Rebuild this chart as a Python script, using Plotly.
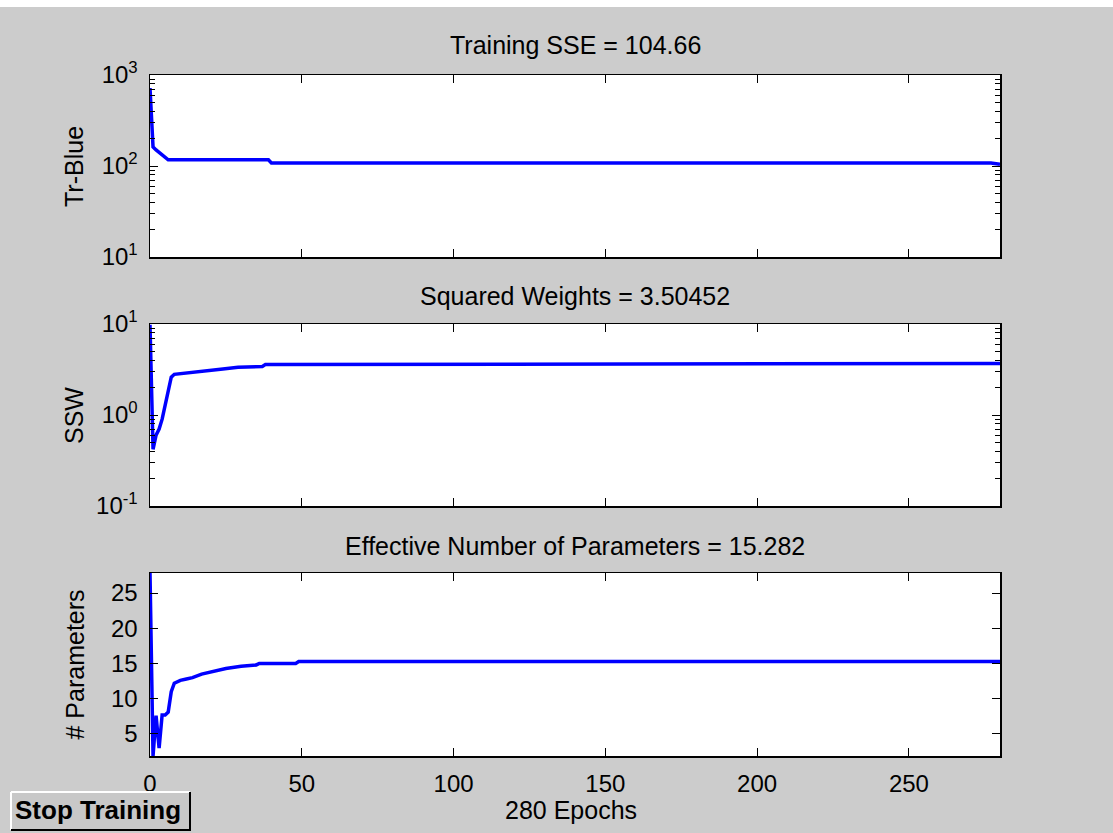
import plotly.graph_objects as go

# ---------------- data ----------------
sse_epochs = [0, 1, 2, 3, 4, 5, 6, 39, 40, 277, 280]
sse_values = [720, 162, 150, 140, 132, 124, 117, 117, 108, 108, 104.66]

ssw_epochs = [0, 1, 2, 3, 4, 5, 6, 7, 8, 15, 19, 24, 29, 37, 38, 91, 92, 280]
ssw_values = [9.8, 0.42, 0.6, 0.7, 0.9, 1.25, 1.9, 2.6, 2.8, 2.94, 3.07, 3.2, 3.34, 3.42, 3.58, 3.6, 3.68, 3.68]

par_epochs = [0, 1, 2, 3, 4, 5, 6, 7, 8, 10, 12, 14, 17, 20, 25, 30, 35, 36, 48, 49, 280]
par_values = [27.85, 1.87, 7.6, 3.0, 7.7, 7.7, 8.1, 11.0, 12.2, 12.6, 12.8, 13.0, 13.5, 13.8, 14.3, 14.6, 14.8, 15.0, 15.0, 15.28, 15.282]

panel_titles = ["Training SSE = 104.66", "Squared Weights = 3.50452",
                "Effective Number of Parameters = 15.282"]
y_titles = ["Tr-Blue", "SSW", "# Parameters"]
x_title = "280 Epochs"
x_ticks = [0, 50, 100, 150, 200, 250]
sse_ticks = [10, 100, 1000]
sse_ticktext = ["10<sup>1</sup>", "10<sup>2</sup>", "10<sup>3</sup>"]
ssw_ticks = [0.1, 1, 10]
ssw_ticktext = ["10<sup>-1</sup>", "10<sup>0</sup>", "10<sup>1</sup>"]
par_ticks = [5, 10, 15, 20, 25]
button_text = "Stop Training"

# ---------------- layout helpers ----------------
W, H = 1113, 833
BG = "#cccccc"
FONT = "Liberation Sans, Arial, sans-serif"


def px_x(p):
    return p / W


def px_y(p):
    return 1 - p / H


x_dom = [px_x(150), px_x(1000)]
panels_px = [(75, 257), (324, 506), (573, 756)]
y_doms = [[px_y(b), px_y(t)] for t, b in panels_px]

fig = go.Figure()
line = dict(color="#0000ff", width=3.5)
fig.add_trace(go.Scatter(x=sse_epochs, y=sse_values, mode="lines", line=line, xaxis="x", yaxis="y", showlegend=False))
fig.add_trace(go.Scatter(x=ssw_epochs, y=ssw_values, mode="lines", line=line, xaxis="x2", yaxis="y2", showlegend=False))
fig.add_trace(go.Scatter(x=par_epochs, y=par_values, mode="lines", line=line, xaxis="x3", yaxis="y3", showlegend=False))

tickfont = dict(family=FONT, size=24, color="black")
common_x = dict(range=[0, 280], tickvals=x_ticks, ticks="inside", ticklen=8, tickwidth=1,
                tickcolor="black", showline=True, linecolor="black", linewidth=1.5,
                mirror="ticks", showgrid=False, zeroline=False, domain=x_dom,
                tickfont=tickfont, fixedrange=True, automargin=False)
common_y = dict(ticks="inside", ticklen=8, tickwidth=1, tickcolor="black", showline=True,
                linecolor="black", linewidth=1.5, mirror="ticks", showgrid=False,
                zeroline=False, tickfont=tickfont, ticklabelstandoff=6, fixedrange=True,
                automargin=False)
minor = dict(ticks="inside", ticklen=5, tickwidth=1, tickcolor="black", dtick="D1", showgrid=False)

fig.update_layout(
    width=W, height=H,
    margin=dict(l=0, r=0, t=0, b=0, pad=0),
    paper_bgcolor=BG, plot_bgcolor="white",
    hovermode=False,
    xaxis=dict(common_x, anchor="y", showticklabels=False),
    xaxis2=dict(common_x, anchor="y2", showticklabels=False),
    xaxis3=dict(common_x, anchor="y3", showticklabels=True, ticklabelstandoff=6),
    yaxis=dict(common_y, type="log", range=[1, 3], tickvals=sse_ticks, ticktext=sse_ticktext,
               minor=minor, domain=y_doms[0], anchor="x"),
    yaxis2=dict(common_y, type="log", range=[-1, 1], tickvals=ssw_ticks, ticktext=ssw_ticktext,
                minor=minor, domain=y_doms[1], anchor="x2"),
    yaxis3=dict(common_y, range=[1.87, 27.85], tickvals=par_ticks, domain=y_doms[2], anchor="x3"),
)

annots = []
title_font = dict(family=FONT, size=25, color="black")
title_y_px = [45, 296, 546]
for t, ty in zip(panel_titles, title_y_px):
    annots.append(dict(text=t, x=px_x(575), y=px_y(ty), xref="paper", yref="paper",
                       xanchor="center", yanchor="middle", showarrow=False, font=title_font))
for t, (top, bot) in zip(y_titles, panels_px):
    annots.append(dict(text=t, x=px_x(74), y=px_y((top + bot) / 2), xref="paper", yref="paper",
                       xanchor="center", yanchor="middle", textangle=-90, showarrow=False,
                       font=title_font))
annots.append(dict(text=x_title, x=px_x(571), y=px_y(810), xref="paper", yref="paper",
                   xanchor="center", yanchor="middle", showarrow=False, font=title_font))
annots.append(dict(text="<b>" + button_text + "</b>", x=px_x(98), y=px_y(810), xref="paper",
                   yref="paper", xanchor="center", yanchor="middle", showarrow=False,
                   font=dict(family=FONT, size=26, color="black")))

shapes = [
    # white strip at the very top
    dict(type="rect", xref="paper", yref="paper", x0=0, x1=1, y0=px_y(7), y1=1,
         fillcolor="white", line=dict(width=0), layer="below"),
    # button face
    dict(type="rect", xref="paper", yref="paper", x0=px_x(11), x1=px_x(190), y0=px_y(830), y1=px_y(792),
         fillcolor="#c8c8c8", line=dict(width=0)),
    # bevel: light top/left
    dict(type="line", xref="paper", yref="paper", x0=px_x(11), x1=px_x(190), y0=px_y(792), y1=px_y(792),
         line=dict(color="white", width=2)),
    dict(type="line", xref="paper", yref="paper", x0=px_x(11), x1=px_x(11), y0=px_y(792), y1=px_y(830),
         line=dict(color="white", width=2)),
    # bevel: dark bottom/right
    dict(type="line", xref="paper", yref="paper", x0=px_x(11), x1=px_x(191), y0=px_y(830), y1=px_y(830),
         line=dict(color="black", width=2)),
    dict(type="line", xref="paper", yref="paper", x0=px_x(190), x1=px_x(190), y0=px_y(792), y1=px_y(830),
         line=dict(color="black", width=2)),
]

fig.update_layout(annotations=annots, shapes=shapes)
fig.write_html("out.html", config={"displayModeBar": False, "staticPlot": True},
               post_script="document.body.style.margin='0';")
